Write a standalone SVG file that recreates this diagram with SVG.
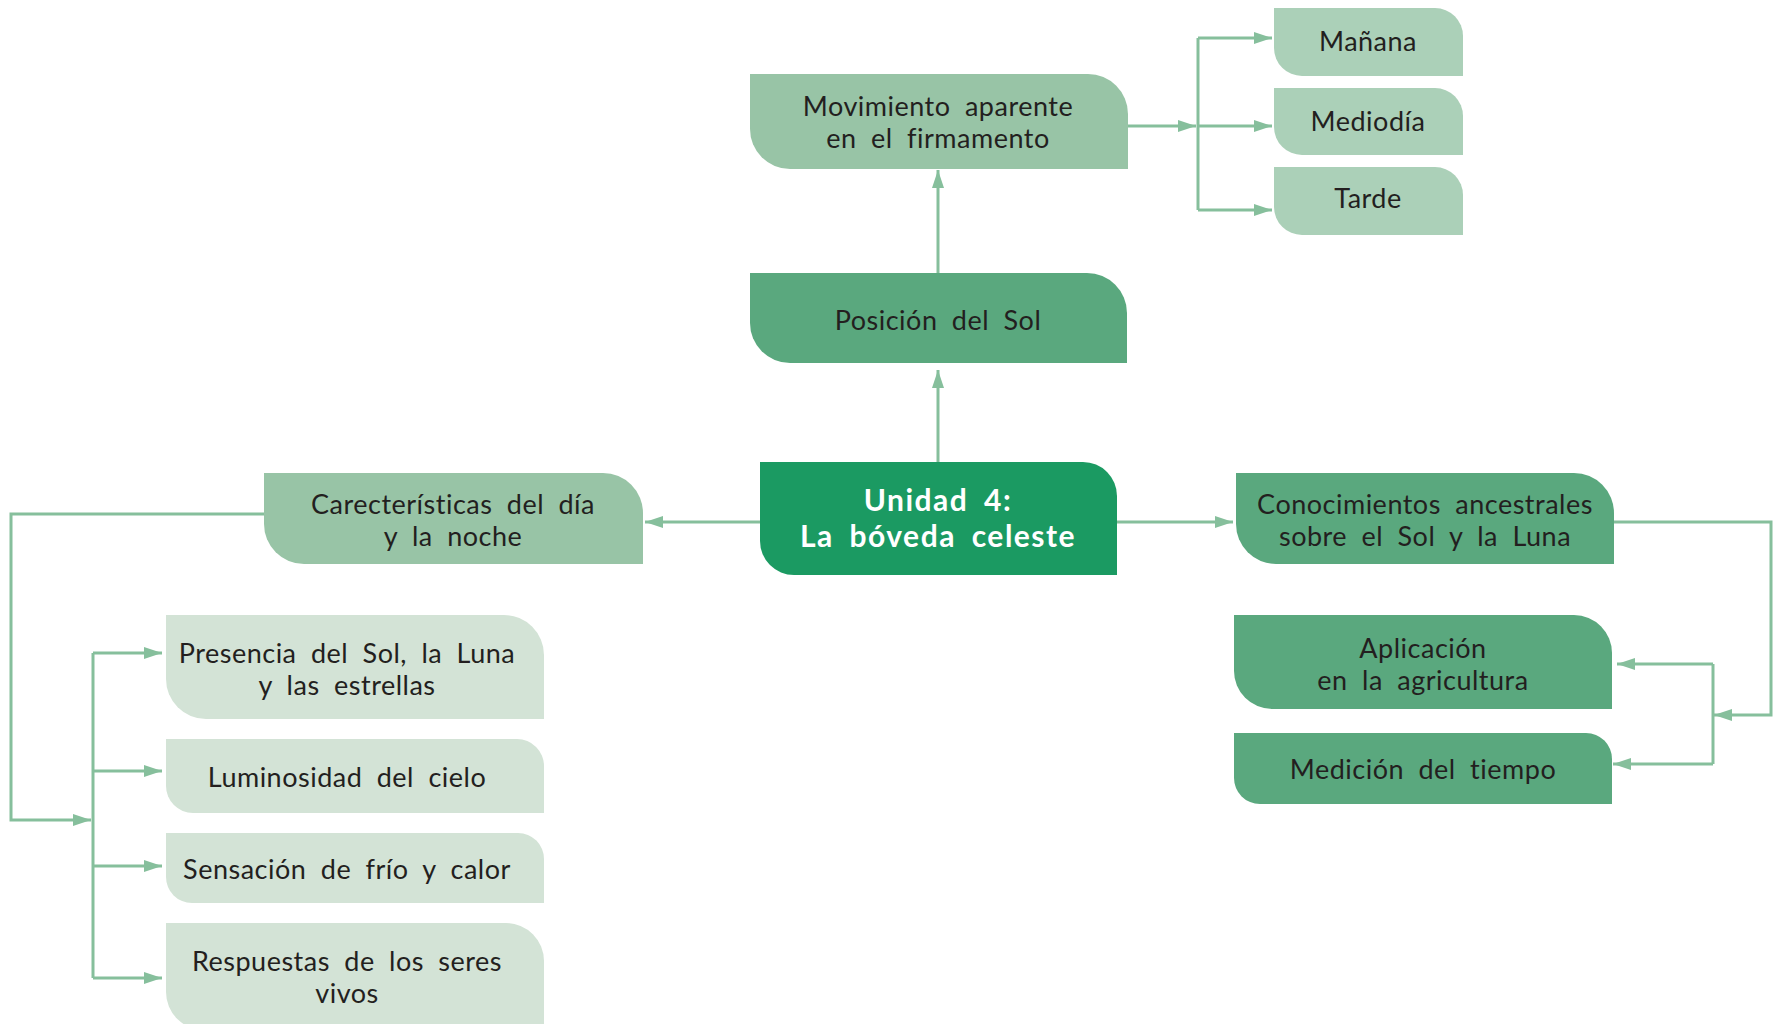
<svg xmlns="http://www.w3.org/2000/svg" width="1773" height="1024" viewBox="0 0 1773 1024">
  <style>
    .lbl { font-family: Lato, "Liberation Sans", sans-serif; font-size: 27px; fill: #231f20; text-anchor: middle; letter-spacing: 0.5px; word-spacing: 7px; }
    .title { font-family: Lato, "Liberation Sans", sans-serif; font-size: 30px; font-weight: bold; fill: #ffffff; text-anchor: middle; letter-spacing: 1.5px; word-spacing: 7px; }
    .c0 { fill: #1b9a62; }
    .c1 { fill: #5aa87e; }
    .c2 { fill: #98c4a6; }
    .c3 { fill: #abd0b8; }
    .c4 { fill: #d3e3d6; }
    .wire { fill: none; stroke: #86bf9c; stroke-width: 3; }
  </style>
  <defs>
    <marker id="arrow" markerUnits="userSpaceOnUse" markerWidth="18" markerHeight="12" refX="18" refY="6" orient="auto">
      <path d="M0,0 L18,6 L0,12 Z" fill="#86bf9c"/>
    </marker>
  </defs>

  <rect width="1773" height="1024" fill="#ffffff"/>

  <!-- connectors -->
  <g id="connectors" class="wire">
    <path d="M938,462 V370" marker-end="url(#arrow)"/>
    <path d="M938,273 V170" marker-end="url(#arrow)"/>
    <path d="M1128,126 H1196" marker-end="url(#arrow)"/>
    <path d="M1198,38 V210"/>
    <path d="M1198,38 H1272" marker-end="url(#arrow)"/>
    <path d="M1198,126 H1272" marker-end="url(#arrow)"/>
    <path d="M1198,210 H1272" marker-end="url(#arrow)"/>
    <path d="M760,522 H645" marker-end="url(#arrow)"/>
    <path d="M1117,522 H1233" marker-end="url(#arrow)"/>
    <path d="M264,514 H11 V820 H91" marker-end="url(#arrow)"/>
    <path d="M93,653 V978"/>
    <path d="M93,653 H162" marker-end="url(#arrow)"/>
    <path d="M93,771 H162" marker-end="url(#arrow)"/>
    <path d="M93,866 H162" marker-end="url(#arrow)"/>
    <path d="M93,978 H162" marker-end="url(#arrow)"/>
    <path d="M1614,522 H1771 V715 H1714" marker-end="url(#arrow)"/>
    <path d="M1713,664 V764"/>
    <path d="M1713,664 H1617" marker-end="url(#arrow)"/>
    <path d="M1713,764 H1613" marker-end="url(#arrow)"/>
  </g>

  <!-- central node -->
  <g id="unidad">
    <path class="c0" d="M760,462 H1083 A34,34 0 0 1 1117,496 V575 H794 A34,34 0 0 1 760,541 Z"/>
    <text class="title" x="938" y="511">Unidad 4:</text>
    <text class="title" x="938" y="547">La bóveda celeste</text>
  </g>

  <g id="posicion">
    <path class="c1" d="M750,273 H1087 A40,40 0 0 1 1127,313 V363 H790 A40,40 0 0 1 750,323 Z"/>
    <text class="lbl" x="938" y="330">Posición del Sol</text>
  </g>

  <g id="movimiento">
    <path class="c2" d="M750,74 H1088 A40,40 0 0 1 1128,114 V169 H790 A40,40 0 0 1 750,129 Z"/>
    <text class="lbl" x="938" y="116">Movimiento aparente</text>
    <text class="lbl" x="938" y="148">en el firmamento</text>
  </g>

  <g id="manana">
    <path class="c3" d="M1274,8 H1435 A28,28 0 0 1 1463,36 V76 H1302 A28,28 0 0 1 1274,48 Z"/>
    <text class="lbl" x="1368" y="51">Mañana</text>
  </g>

  <g id="mediodia">
    <path class="c3" d="M1274,88 H1435 A28,28 0 0 1 1463,116 V155 H1302 A28,28 0 0 1 1274,127 Z"/>
    <text class="lbl" x="1368" y="131">Mediodía</text>
  </g>

  <g id="tarde">
    <path class="c3" d="M1274,167 H1435 A28,28 0 0 1 1463,195 V235 H1302 A28,28 0 0 1 1274,207 Z"/>
    <text class="lbl" x="1368" y="208">Tarde</text>
  </g>

  <g id="caracteristicas">
    <path class="c2" d="M264,473 H603 A40,40 0 0 1 643,513 V564 H304 A40,40 0 0 1 264,524 Z"/>
    <text class="lbl" x="453" y="514">Carecterísticas del día</text>
    <text class="lbl" x="453" y="546">y la noche</text>
  </g>

  <g id="presencia">
    <path class="c4" d="M166,615 H504 A40,40 0 0 1 544,655 V719 H206 A40,40 0 0 1 166,679 Z"/>
    <text class="lbl" x="347" y="663">Presencia del Sol, la Luna</text>
    <text class="lbl" x="347" y="695">y las estrellas</text>
  </g>

  <g id="luminosidad">
    <path class="c4" d="M166,739 H517 A27,27 0 0 1 544,766 V813 H193 A27,27 0 0 1 166,786 Z"/>
    <text class="lbl" x="347" y="787">Luminosidad del cielo</text>
  </g>

  <g id="sensacion">
    <path class="c4" d="M166,833 H518 A26,26 0 0 1 544,859 V903 H192 A26,26 0 0 1 166,877 Z"/>
    <text class="lbl" x="347" y="879">Sensación de frío y calor</text>
  </g>

  <g id="respuestas">
    <path class="c4" d="M166,923 H506 A38,38 0 0 1 544,961 V1030 H204 A38,38 0 0 1 166,992 Z"/>
    <text class="lbl" x="347" y="971">Respuestas de los seres</text>
    <text class="lbl" x="347" y="1003">vivos</text>
  </g>

  <g id="conocimientos">
    <path class="c1" d="M1236,473 H1574 A40,40 0 0 1 1614,513 V564 H1276 A40,40 0 0 1 1236,524 Z"/>
    <text class="lbl" x="1425" y="514">Conocimientos ancestrales</text>
    <text class="lbl" x="1425" y="546">sobre el Sol y la Luna</text>
  </g>

  <g id="aplicacion">
    <path class="c1" d="M1234,615 H1574 A38,38 0 0 1 1612,653 V709 H1272 A38,38 0 0 1 1234,671 Z"/>
    <text class="lbl" x="1423" y="658">Aplicación</text>
    <text class="lbl" x="1423" y="690">en la agricultura</text>
  </g>

  <g id="medicion">
    <path class="c1" d="M1234,733 H1586 A26,26 0 0 1 1612,759 V804 H1260 A26,26 0 0 1 1234,778 Z"/>
    <text class="lbl" x="1423" y="779">Medición del tiempo</text>
  </g>
</svg>
